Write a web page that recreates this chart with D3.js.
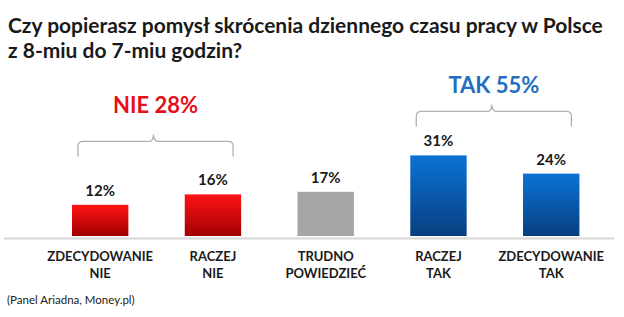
<!DOCTYPE html>
<html>
<head>
<meta charset="utf-8">
<script src="https://cdn.jsdelivr.net/npm/d3@7"></script>
<style>
  body { margin: 0; background: #fff; }
  svg { display: block; font-family: Lato, "Open Sans", sans-serif; }
</style>
</head>
<body>
<svg id="chart" width="624" height="317"></svg>
<script>
const categories = [["ZDECYDOWANIE", "NIE"], ["RACZEJ", "NIE"], ["TRUDNO", "POWIEDZIEĆ"], ["RACZEJ", "TAK"], ["ZDECYDOWANIE", "TAK"]];
const values = [12, 16, 17, 31, 24];
const kinds = ["nie", "nie", "neutral", "tak", "tak"];
const groupLabels = ["NIE 28%", "TAK 55%"];
const groupMembers = [[0, 1], [3, 4]];
const titleLines = ["Czy popierasz pomysł skrócenia dziennego czasu pracy w Polsce", "z 8-miu do 7-miu godzin?"];
const sourceText = "(Panel Ariadna, Money.pl)";

const width = 624, height = 317;
const svg = d3.select("#chart");
const defs = svg.append("defs");

// gradients for bars
const grads = {
  nie: ["#ff1414", "#a00000"],
  tak: ["#0b72d6", "#083f7f"]
};
Object.entries(grads).forEach(([k, c]) => {
  const lg = defs.append("linearGradient").attr("id", "g-" + k)
    .attr("x1", 0).attr("y1", 0).attr("x2", 0).attr("y2", 1);
  lg.append("stop").attr("offset", "0%").attr("stop-color", c[0]);
  lg.append("stop").attr("offset", "100%").attr("stop-color", c[1]);
});
const fillFor = k => k === "neutral" ? "#a6a6a6" : `url(#g-${k})`;
const groupColor = ["#e3101a", "#1f6ec0"];

const idx = d3.range(values.length);
const x = d3.scaleBand().domain(idx).range([43.8, 607.6]).paddingInner(0.5).paddingOuter(0.25);
const y = d3.scaleLinear().domain([0, 100]).range([236, -24]);

// title
const title = svg.append("g").attr("fill", "#1a1a1a").attr("font-weight", 700);
title.selectAll("text").data(titleLines).join("text")
  .attr("x", 8).attr("y", (d, i) => 33 + i * 25)
  .attr("font-size", 20)
  .text(d => d);
// fit title to reference width
const tw = title.select("text").node().getComputedTextLength();
title.selectAll("text").attr("font-size", 20 * 595 / tw);

// axis line
svg.append("line")
  .attr("x1", 4).attr("x2", 614).attr("y1", 238.5).attr("y2", 238.5)
  .attr("stroke", "#d6d6d6").attr("stroke-width", 2);

// bars
svg.selectAll("rect.bar").data(idx).join("rect")
  .attr("class", "bar")
  .attr("x", i => x(i)).attr("width", x.bandwidth())
  .attr("y", i => y(values[i])).attr("height", i => y(0) - y(values[i]))
  .attr("fill", i => fillFor(kinds[i]));

// value labels
svg.selectAll("text.val").data(idx).join("text")
  .attr("class", "val")
  .attr("x", i => x(i) + x.bandwidth() / 2)
  .attr("y", i => y(values[i]) - 9)
  .attr("text-anchor", "middle")
  .attr("font-size", 15).attr("font-weight", 700).attr("fill", "#1a1a1a")
  .text(i => values[i] + "%");

// category labels
const cat = svg.selectAll("text.cat").data(idx).join("text")
  .attr("class", "cat")
  .attr("text-anchor", "middle")
  .attr("font-size", 13).attr("font-weight", 700).attr("fill", "#1a1a1a");
cat.selectAll("tspan").data(i => categories[i].map(t => [i, t])).join("tspan")
  .attr("x", d => x(d[0]) + x.bandwidth() / 2)
  .attr("y", (d, j) => 261 + j * 17)
  .text(d => d[1]);

// group braces
const braceLift = [53, 44];
groupMembers.forEach((m, g) => {
  const x0 = x(m[0]) + 6, x1 = x(m[m.length - 1]) + x.bandwidth() - 8;
  const top = y(d3.max(m, i => values[i])) - braceLift[g];
  const mid = (x0 + x1) / 2 - 2;
  const r = 5, drop = 15, tip = 7;
  const path = `M${x0},${top + drop} L${x0},${top + r} Q${x0},${top} ${x0 + r},${top}
    L${mid - r},${top} Q${mid},${top} ${mid},${top - tip}
    Q${mid},${top} ${mid + r},${top} L${x1 - r},${top} Q${x1},${top} ${x1},${top + r} L${x1},${top + drop}`;
  svg.append("path").attr("d", path)
    .attr("fill", "none").attr("stroke", "#b0b0b0").attr("stroke-width", 1.3);
  svg.append("text")
    .attr("x", mid + 2).attr("y", top - tip - (g === 0 ? 21 : 11))
    .attr("text-anchor", "middle")
    .attr("font-size", 22).attr("font-weight", 700).attr("fill", groupColor[g])
    .text(groupLabels[g]);
});

// source
svg.append("text")
  .attr("x", 7).attr("y", 304)
  .attr("font-size", 11.5).attr("fill", "#222")
  .text(sourceText);
</script>
</body>
</html>
